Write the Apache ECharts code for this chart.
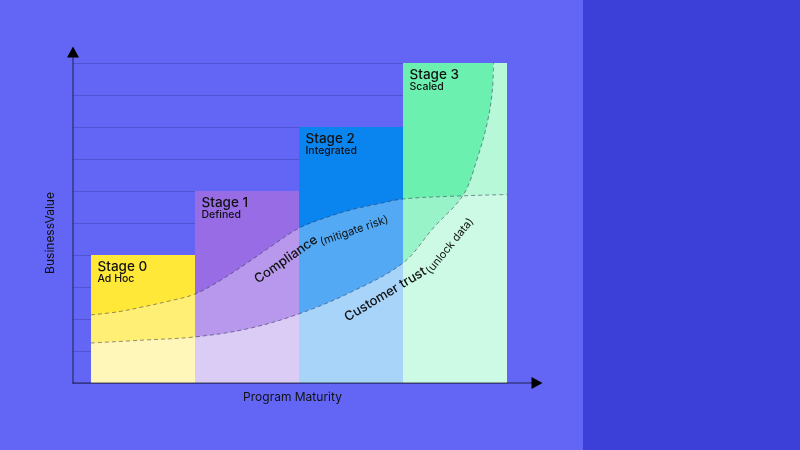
<!DOCTYPE html>
<html>
<head>
<meta charset="utf-8">
<script src="https://cdn.jsdelivr.net/npm/echarts@6/dist/echarts.min.js"></script>
<style>
html,body{margin:0;padding:0;background:#6366f5;}
#chart{width:800px;height:450px;}
</style>
</head>
<body>
<div id="chart"></div>
<script>
// ---- data ----
const stageNames = ['Stage 0', 'Stage 1', 'Stage 2', 'Stage 3'];
const stageSubtitles = ['Ad Hoc', 'Defined', 'Integrated', 'Scaled'];
const stageValues = [4, 6, 8, 10];
const stageColors = ['#ffe838', '#986ce4', '#0a85f0', '#6cf0b0'];

const valueMax = 10;
const valueStep = 1;

// Compliance (mitigate risk) curve: x in stage units, y in business value
const complianceX = [0, 0.25, 0.5, 0.75, 1, 1.25, 1.5, 1.75, 2, 2.25, 2.5, 2.75, 3, 3.5, 4];
const complianceY = [2.13, 2.22, 2.38, 2.56, 2.78, 3.22, 3.75, 4.31, 4.84, 5.16, 5.41, 5.59, 5.75, 5.84, 5.89];

// Customer trust (unlock data) curve
const trustX = [0, 0.5, 1, 1.5, 2, 2.5, 3, 3.29, 3.58, 3.71, 3.81, 3.86, 3.87];
const trustY = [1.25, 1.34, 1.44, 1.69, 2.16, 2.84, 3.75, 4.84, 5.88, 6.97, 8.13, 9.16, 10];

const axisNames = { x: 'Program Maturity', y: 'BusinessValue' };
const curveNames = {
  compliance: ['Compliance', '(mitigate risk)'],
  trust: ['Customer trust', '(unlock data)']
};

// ---- build ----
const FONT = 'Inter, "Noto Sans", sans-serif';
const barData = stageValues.map((v, i) => [i, v]);
const compliancePts = complianceX.map((x, i) => [x, complianceY[i]]);
const trustPts = trustX.map((x, i) => [x, trustY[i]]);
const trustAreaPts = trustPts.concat([[stageValues.length, valueMax]]);

const chart = echarts.init(document.getElementById('chart'), null, { renderer: 'canvas' });

const SMOOTH = 0.35;
const option = {
  backgroundColor: '#6366f5',
  animation: false,
  grid: [
    { left: 73, right: 293, top: 63, bottom: 67 },
    { left: 73, right: 263, top: 52, bottom: 67 }
  ],
  xAxis: [
    { gridIndex: 0, type: 'value', min: -0.1731, max: stageValues.length,
      axisLine: { show: false }, axisTick: { show: false }, axisLabel: { show: false }, splitLine: { show: false } },
    { gridIndex: 1, type: 'value', min: 0, max: 1, z: 10,
      axisLine: { show: true, symbol: ['none', 'triangle'], symbolSize: [12, 11],
        lineStyle: { color: '#000', opacity: 0.45, width: 1.5 } },
      axisTick: { show: false }, axisLabel: { show: false }, splitLine: { show: false } }
  ],
  yAxis: [
    { gridIndex: 0, type: 'value', min: 0, max: valueMax, interval: valueStep,
      axisLine: { show: false }, axisTick: { show: false }, axisLabel: { show: false },
      splitLine: { show: true, lineStyle: { color: '#5053d2', width: 1 } } },
    { gridIndex: 1, type: 'value', min: 0, max: 1, z: 10,
      axisLine: { show: true, symbol: ['none', 'triangle'], symbolSize: [12, 11],
        lineStyle: { color: '#000', opacity: 0.45, width: 1.5 } },
      axisTick: { show: false }, axisLabel: { show: false }, splitLine: { show: false } }
  ],
  series: [
    {
      type: 'custom',
      xAxisIndex: 0, yAxisIndex: 0,
      data: barData,
      renderItem: function (params, api) {
        const i = api.value(0);
        const v = api.value(1);
        const p0 = api.coord([i, v]);
        const p1 = api.coord([i + 1, 0]);
        return {
          type: 'group',
          children: [
            { type: 'rect', shape: { x: p0[0], y: p0[1], width: p1[0] - p0[0], height: p1[1] - p0[1] },
              style: { fill: stageColors[i] } },
            { type: 'text', x: p0[0] + 6.5, y: p0[1] + 5,
              style: { text: stageNames[i], fill: '#111', font: '500 13.5px ' + FONT, verticalAlign: 'top', align: 'left' } },
            { type: 'text', x: p0[0] + 6.5, y: p0[1] + 18,
              style: { text: stageSubtitles[i], fill: '#111', font: '500 10.5px ' + FONT, verticalAlign: 'top', align: 'left' } }
          ]
        };
      },
      z: 1
    },
    {
      name: 'Compliance area', type: 'line', xAxisIndex: 0, yAxisIndex: 0,
      data: compliancePts, smooth: SMOOTH, symbol: 'none',
      lineStyle: { width: 0 }, areaStyle: { color: 'rgba(255,255,255,0.3)', opacity: 1, origin: 'start' }, z: 2
    },
    {
      name: 'Trust area', type: 'line', xAxisIndex: 0, yAxisIndex: 0,
      data: trustAreaPts, smooth: SMOOTH, symbol: 'none',
      lineStyle: { width: 0 }, areaStyle: { color: 'rgba(255,255,255,0.5)', opacity: 1, origin: 'start' }, z: 2
    },
    {
      name: 'Compliance', type: 'line', xAxisIndex: 0, yAxisIndex: 0,
      data: compliancePts, smooth: SMOOTH, symbol: 'none',
      lineStyle: { width: 1, type: [4, 3], color: 'rgba(40,40,70,0.5)' }, z: 3
    },
    {
      name: 'Customer trust', type: 'line', xAxisIndex: 0, yAxisIndex: 0,
      data: trustPts, smooth: SMOOTH, symbol: 'none',
      lineStyle: { width: 1, type: [4, 3], color: 'rgba(40,40,70,0.5)' }, z: 3
    }
  ]
};
chart.setOption(option);

function px(x, y) { return chart.convertToPixel({ gridIndex: 0 }, [x, y]); }
const deg = Math.PI / 180;
function label(text, x, y, rot, size, weight) {
  const p = px(x, y);
  return { type: 'text', x: p[0], y: p[1], rotation: rot * deg, z: 50,
    style: { text: text, fill: '#111', font: weight + ' ' + size + 'px ' + FONT, align: 'center', verticalAlign: 'middle' } };
}

chart.setOption({
  graphic: [
    { type: 'rect', left: 583, top: 0, shape: { width: 217, height: 450 }, style: { fill: '#3c40d8' }, z: 0 },
    label(curveNames.compliance[0], 1.875, 3.86, 35, 13, 500),
    label(curveNames.compliance[1], 2.53, 4.76, 19, 11, 400),
    label(curveNames.trust[0], 2.83, 2.77, 31, 13, 500),
    label(curveNames.trust[1], 3.45, 4.28, 51, 11, 400),
    { type: 'text', x: 292.5, y: 397.5, z: 50,
      style: { text: axisNames.x, fill: '#111', font: '400 12px ' + FONT, align: 'center', verticalAlign: 'middle' } },
    { type: 'text', x: 50, y: 233, rotation: 90 * deg, z: 50,
      style: { text: axisNames.y, fill: '#111', font: '400 12px ' + FONT, align: 'center', verticalAlign: 'middle' } }
  ]
});
</script>
</body>
</html>
